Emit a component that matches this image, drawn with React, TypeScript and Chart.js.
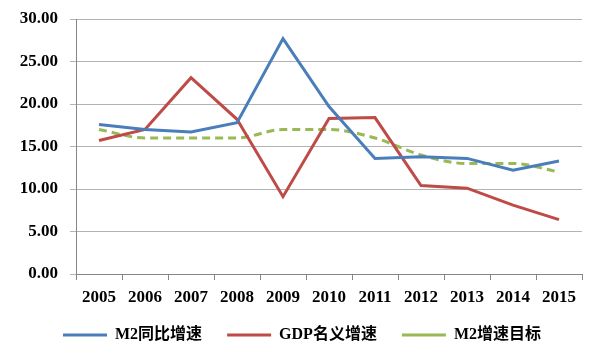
import React, { useEffect, useRef } from "react";
import { Chart, registerables } from "chart.js";

Chart.register(...registerables);

const years = ["2005", "2006", "2007", "2008", "2009", "2010", "2011", "2012", "2013", "2014", "2015"];
const m2Growth = [17.6, 17.0, 16.7, 17.8, 27.7, 19.7, 13.6, 13.8, 13.6, 12.2, 13.3];
const gdpGrowth = [15.7, 17.0, 23.1, 18.2, 9.1, 18.3, 18.4, 10.4, 10.1, 8.1, 6.4];
const m2Target = [17, 16, 16, 16, 17, 17, 16, 14, 13, 13, 12];
const seriesNames = ["M2同比增速", "GDP名义增速", "M2增速目标"];

const FONT = '"Liberation Serif", "Times New Roman", "Noto Sans CJK SC", serif';

const legendHeightPlugin = {
  id: "legendHeight",
  beforeLayout(chart: any) {
    const lg = chart.legend;
    if (lg && !lg.__patched) {
      const orig = lg.fit.bind(lg);
      lg.fit = function () {
        orig();
        this.height = 58;
      };
      lg.__patched = true;
    }
  },
  afterLayout(chart: any) {
    const lg = chart.legend;
    if (lg) {
      lg.left += 11;
      lg.right += 11;
    }
  },
};

export default function App() {
  const ref = useRef<HTMLCanvasElement>(null);
  useEffect(() => {
    const chart = new Chart(ref.current!, {
      type: "line",
      data: {
        labels: years,
        datasets: [
          {
            label: seriesNames[0],
            data: m2Growth,
            borderColor: "#4A7EBB",
            backgroundColor: "#4A7EBB",
            borderWidth: 3,
            pointRadius: 0,
            tension: 0,
          },
          {
            label: seriesNames[1],
            data: gdpGrowth,
            borderColor: "#BE4B48",
            backgroundColor: "#BE4B48",
            borderWidth: 3,
            pointRadius: 0,
            tension: 0,
          },
          {
            label: seriesNames[2],
            data: m2Target,
            borderColor: "#98B954",
            backgroundColor: "#98B954",
            borderWidth: 3,
            borderDash: [8, 5],
            pointRadius: 0,
            cubicInterpolationMode: "monotone",
          },
        ],
      },
      plugins: [legendHeightPlugin],
      options: {
        animation: false,
        responsive: false,
        maintainAspectRatio: false,
        layout: { padding: { top: 19, right: 18, left: 0, bottom: 0 } },
        plugins: {
          tooltip: { enabled: false },
          legend: {
            position: "bottom",
            labels: {
              usePointStyle: true,
              pointStyle: "line",
              pointStyleWidth: 44,
              boxWidth: 44,
              boxHeight: 3,
              padding: 25,
              color: "#000",
              font: { family: FONT, size: 16, weight: "bold" },
            },
          },
        },
        scales: {
          x: {
            offset: true,
            afterFit: (s: any) => {
              s.height = 28;
            },
            grid: {
              offset: true,
              drawOnChartArea: false,
              drawTicks: true,
              tickLength: 6,
              color: "#868686",
            },
            border: { color: "#868686", width: 1 },
            ticks: {
              color: "#000",
              padding: 7,
              maxRotation: 0,
              font: { family: FONT, size: 17, weight: "bold" },
            },
          },
          y: {
            min: 0,
            max: 30,
            afterFit: (s: any) => {
              s.width = 76;
              s.paddingTop = 0;
              s.paddingBottom = 0;
            },
            ticks: {
              stepSize: 5,
              color: "#000",
              padding: 12,
              callback: (v: any) => Number(v).toFixed(2),
              font: { family: FONT, size: 17, weight: "bold" },
            },
            grid: { color: "#B3B3B3", lineWidth: 1, tickLength: 6 },
            border: { color: "#868686", width: 1 },
          },
        },
      },
    });
    return () => chart.destroy();
  }, []);
  return (
    <div style={{ position: "fixed", left: 0, top: 0, width: 600, height: 360, background: "#fff" }}>
      <canvas ref={ref} width={600} height={360} style={{ width: 600, height: 360 }} />
    </div>
  );
}
